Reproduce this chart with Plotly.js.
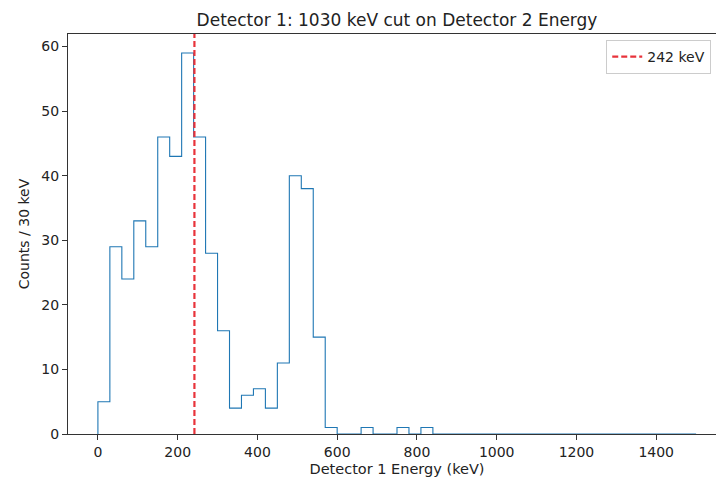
<!DOCTYPE html>
<html>
<head>
<meta charset="utf-8">
<script src="https://cdn.plot.ly/plotly-3.0.1.min.js"></script>
<style>
  html, body { margin: 0; padding: 0; background: #fff; overflow: hidden; width: 716px; height: 480px; }
  #chart { width: 780px; height: 480px; }
</style>
</head>
<body>
<div id="chart"></div>
<script>
// Detector 1 energy spectrum, 30 keV bins from 0 to 1500 keV
const binWidth = 30;
const binStart = 0;
const counts = [
  5, 29, 24, 33, 29, 46, 43, 59, 46, 28,
  16, 4, 6, 7, 4, 11, 40, 38, 15, 1,
  0, 0, 1, 0, 0, 1, 0, 1, 0, 0,
  0, 0, 0, 0, 0, 0, 0, 0, 0, 0,
  0, 0, 0, 0, 0, 0, 0, 0, 0, 0
];
const cutEnergy = 242;          // keV, marked line
const cutLabel = '242 keV';
const xTicks = [0, 200, 400, 600, 800, 1000, 1200, 1400];
const yTicks = [0, 10, 20, 30, 40, 50, 60];

// step outline: start at baseline, each bin edge carries the bin count, close at baseline
const stepX = [binStart];
const stepY = [0];
counts.forEach((c, i) => { stepX.push(binStart + i * binWidth); stepY.push(c); });
stepX.push(binStart + counts.length * binWidth);
stepY.push(0);

const xMax = binStart + counts.length * binWidth;
const xPad = 0.05 * (xMax - binStart);
const yTop = 1.05 * Math.max(...counts);

const font = { family: 'DejaVu Sans, sans-serif', color: '#222', size: 14 };

const traces = [
  {
    x: stepX, y: stepY, mode: 'lines', type: 'scatter',
    line: { shape: 'hv', color: '#1f77b4', width: 1.1 },
    showlegend: false, hoverinfo: 'skip'
  },
  {
    x: [cutEnergy, cutEnergy], y: [0, yTop], mode: 'lines', type: 'scatter',
    name: cutLabel,
    line: { color: '#e8333b', width: 2.2, dash: '6px,3px' },
    showlegend: true, hoverinfo: 'skip'
  }
];

const axisCommon = {
  showline: true, linecolor: '#333', linewidth: 1, mirror: true,
  ticks: 'outside', ticklen: 5, tickcolor: '#333', tickwidth: 1,
  showgrid: false, zeroline: false, tickfont: { ...font, size: 14 }
};

// the figure is wider than the window; its right edge falls outside the view
const layout = {
  width: 780, height: 480,
  margin: { l: 68, r: 54, t: 34, b: 46 },
  paper_bgcolor: '#fff', plot_bgcolor: '#fff',
  font: font,
  title: {
    text: 'Detector 1: 1030 keV cut on Detector 2 Energy',
    font: { ...font, size: 17 },
    x: 0.5, xref: 'paper', xanchor: 'center', y: 1, yref: 'paper', yanchor: 'bottom',
    pad: { b: 8 }
  },
  xaxis: {
    ...axisCommon,
    range: [binStart - xPad, xMax + xPad],
    tickvals: xTicks, ticktext: xTicks.map(String),
    title: { text: 'Detector 1 Energy (keV)', font: { ...font, size: 14.5 }, standoff: 5 }
  },
  yaxis: {
    ...axisCommon,
    range: [0, yTop],
    tickvals: yTicks, ticktext: yTicks.map(String),
    title: { text: 'Counts / 30 keV', font: { ...font, size: 14 }, standoff: 8 }
  },
  legend: {
    x: 0.818, y: 0.985, xanchor: 'left', yanchor: 'top',
    bgcolor: '#fff', bordercolor: '#ccc', borderwidth: 1,
    font: { ...font, size: 14 }
  },
  showlegend: true
};

Plotly.newPlot('chart', traces, layout, { displayModeBar: false, staticPlot: true });
</script>
</body>
</html>
